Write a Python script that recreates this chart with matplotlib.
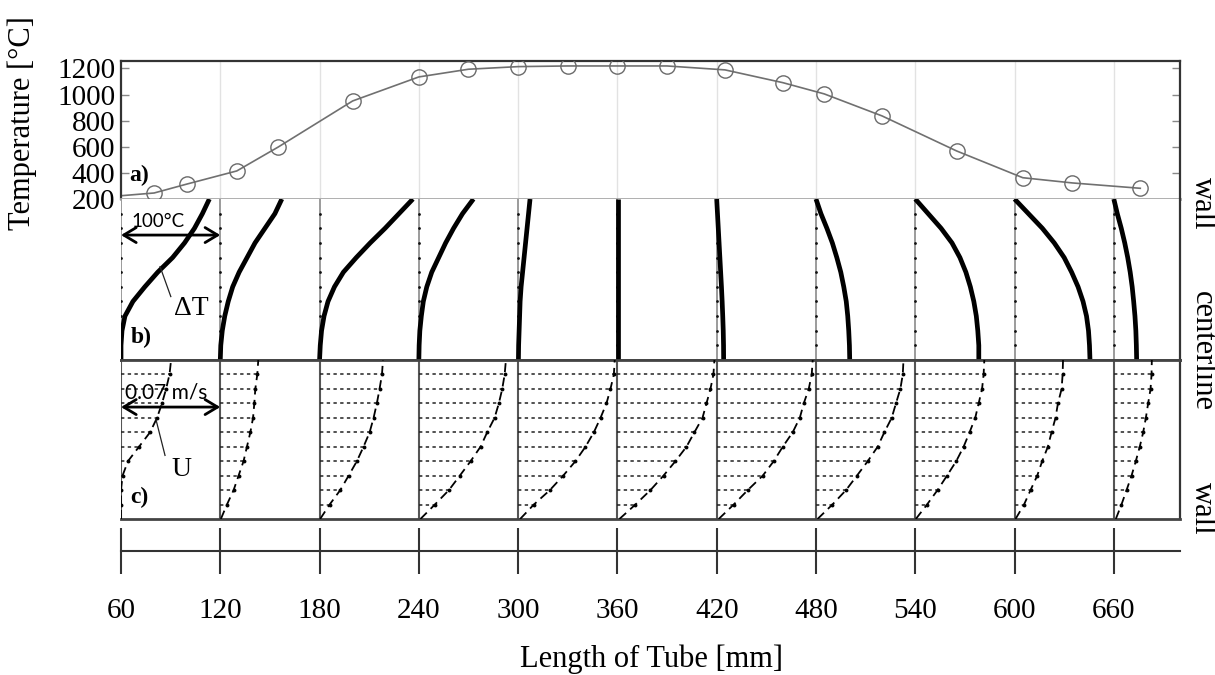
import numpy as np
import matplotlib
matplotlib.use("Agg")
import matplotlib.pyplot as plt

plt.rcParams['font.family'] = ['Liberation Serif', 'DejaVu Serif']

# ---- a) measured wall temperature along the tube ----
pos_mm = [80, 100, 130, 155, 200, 240, 270, 300, 330, 360, 390, 425, 460,
          485, 520, 565, 605, 635, 676]
temp_C = [246, 315, 415, 598, 951, 1135, 1194, 1214, 1219, 1219, 1219, 1189,
          1091, 1005, 836, 568, 363, 323, 282]
start_T = 225          # temperature where the heated section begins (x = 60 mm)

# ---- profile stations along the tube ----
stations = [60, 120, 180, 240, 300, 360, 420, 480, 540, 600, 660]
station_labels = ['60', '120', '180', '240', '300', '360', '420', '480',
                  '540', '600', '660']
temp_ticks = [200, 400, 600, 800, 1000, 1200]

# radial nodes, 0 = wall, 1 = centerline
nodes = np.linspace(0, 1, 12)

# ---- b) radial temperature difference profiles, deg C (wall -> centerline) ----
delta_T = [
    [89, 82, 74, 64, 52, 37, 24, 12, 4, 1, 0, 0],
    [62, 55, 45, 35, 27, 19, 12.5, 8, 4.5, 2, 0.5, 0],
    [94, 80, 66, 51, 37, 24, 15, 8.5, 4.5, 2, 0.7, 0],
    [55, 44, 35, 27, 20, 13, 8, 4.5, 2.5, 1, 0.3, 0],
    [12, 10.5, 9, 7.5, 6, 4.5, 3, 2, 1.5, 1, 0.5, 0.3],
    [1, 1, 1, 1, 1, 1, 1, 1, 1, 1, 1, 1],
    [0, 0.8, 1.6, 2.4, 3.2, 4, 4.8, 5.5, 6.1, 6.6, 6.9, 7],
    [0, 5, 11, 16.5, 21, 25, 28, 30.5, 32, 33, 33.7, 34],
    [0, 13, 26, 37, 45, 51, 55.5, 59, 61.5, 63, 64, 64],
    [0, 14, 28, 40, 50, 57.5, 64, 69, 72.5, 74.5, 75.5, 76],
    [0, 3.5, 7.5, 11, 14, 16.5, 18.5, 20, 21.3, 22.2, 22.7, 23],
]
dT_scale = 100.0       # deg C represented by one station spacing

# ---- c) axial velocity profiles, mm/s (wall -> centerline) ----
velocity = [
    [0, 0, 0, 1.1, 4.9, 12.7, 20.5, 25.4, 28.9, 31.8, 34.2, 35.3],
    [0.4, 4.7, 9.4, 12.9, 16.4, 18.8, 21.2, 23.1, 24.0, 24.7, 26.1, 26.8],
    [0.4, 7.1, 14.6, 20.5, 26.3, 31.0, 35.3, 38.1, 40.4, 42.3, 44.0, 44.7],
    [1.1, 11.3, 21.2, 28.9, 36.5, 43.5, 48.2, 53.4, 56.4, 58.8, 60.5, 61.4],
    [1.4, 11.1, 22.4, 31.8, 40.4, 47.5, 53.4, 58.1, 62.3, 65.1, 67.5, 68.1],
    [1.4, 12.7, 23.3, 32.5, 40.9, 48.7, 54.3, 60.0, 62.8, 65.6, 67.7, 68.4],
    [1.4, 12.0, 21.9, 32.5, 40.2, 46.6, 53.6, 58.6, 61.4, 64.9, 67.0, 67.7],
    [1.1, 11.6, 21.2, 28.9, 36.5, 43.5, 48.2, 53.4, 56.4, 59.5, 61.2, 61.7],
    [0.4, 8.3, 15.7, 22.4, 28.9, 34.1, 38.3, 42.3, 44.7, 47.1, 48.2, 48.7],
    [0.7, 6.7, 11.3, 16.0, 19.5, 23.5, 26.1, 28.9, 30.6, 33.2, 33.9, 34.2],
    [1.4, 5.4, 9.0, 12.5, 15.5, 18.3, 20.7, 22.6, 24.2, 25.9, 26.6, 26.8],
]
U_scale = 70.0         # mm/s represented by one station spacing (0.07 m/s)

spacing = stations[1] - stations[0]
x_range = (60, 700)

W, H = 1215, 675
fig = plt.figure(figsize=(W / 100, H / 100), dpi=100)


def box(left, top, right, bottom):
    return [left / W, 1 - bottom / H, (right - left) / W, (bottom - top) / H]


ax_a = fig.add_axes(box(121, 61, 1180, 199))
ax_b = fig.add_axes(box(121, 199, 1180, 360))
ax_c = fig.add_axes(box(121, 360, 1180, 519))
ax_d = fig.add_axes(box(121, 530, 1180, 572))

dark = '#333333'

# ---------------- panel a ----------------
ax_a.plot([x_range[0]] + pos_mm, [start_T] + temp_C, color='#707070', lw=1.2,
          zorder=2)
ax_a.plot(pos_mm, temp_C, ls='none', marker='o', ms=11, mfc='none',
          mec='#6a6a6a', mew=1.0, zorder=3)
ax_a.set_xlim(*x_range)
ax_a.set_ylim(200, 1257)
ax_a.set_yticks(temp_ticks)
ax_a.set_yticklabels([str(t) for t in temp_ticks])
ax_a.set_xticks(stations[1:])
ax_a.grid(axis='x', color='#e2e2e2', lw=1.0)
ax_a.tick_params(axis='x', length=0, labelbottom=False)
ax_a.tick_params(axis='y', direction='in', left=True, right=True, length=6,
                 width=1, color='#888888', labelsize=21, pad=4)
for side in ('left', 'top', 'right'):
    ax_a.spines[side].set_color(dark)
    ax_a.spines[side].set_linewidth(1.6)
ax_a.spines['bottom'].set_color('#a8a8a8')
ax_a.spines['bottom'].set_linewidth(2.0)
ax_a.text(70.9, 384, 'a)', fontsize=17, fontweight='bold', ha='center',
          va='center')

# ---------------- panel b ----------------
ax_b.set_xlim(*x_range)
ax_b.set_ylim(1, 0)
for s, prof in zip(stations, delta_T):
    ax_b.plot([s, s], [0, 1], color='#8a8a8a', lw=1.2, zorder=1)
    ax_b.plot([s] * 10, nodes[1:-1], ls='none', marker='o', ms=2.0,
              mew=0, color='#111111', zorder=2)
    ax_b.plot(s + np.array(prof) * spacing / dT_scale, nodes, color='black',
              lw=3.4, solid_capstyle='butt', solid_joinstyle='round', zorder=3)
ax_b.set_xticks([])
ax_b.set_yticks([])
ax_b.spines['top'].set_visible(False)
ax_b.spines['left'].set_visible(False)
ax_b.spines['right'].set_color(dark)
ax_b.spines['right'].set_linewidth(1.6)
ax_b.spines['bottom'].set_color('#444444')
ax_b.spines['bottom'].set_linewidth(2.0)

ax_b.annotate('', xy=(stations[0], 0.224), xytext=(stations[1], 0.224),
              arrowprops=dict(arrowstyle='<->,head_length=0.5,head_width=0.3',
                              lw=2.0, color='black', shrinkA=0, shrinkB=0,
                              mutation_scale=18), zorder=5)
ax_b.text(82.4, 0.137, '100°C', family=['Lato', 'DejaVu Sans'], fontsize=13.5,
          ha='center', va='center', zorder=6)
ax_b.plot([83.6, 90.1], [0.42, 0.606], color='#222222', lw=0.9, zorder=4)
ax_b.text(102.3, 0.683, 'ΔT', fontsize=20, ha='center', va='center')
ax_b.text(72.1, 0.857, 'b)', fontsize=17, fontweight='bold', ha='center',
          va='center')

# ---------------- panel c ----------------
ax_c.set_xlim(*x_range)
ax_c.set_ylim(0, 1)
for s, prof in zip(stations, velocity):
    tips = s + np.array(prof) * spacing / U_scale
    ax_c.plot([s, s], [0, 1], color='#555555', lw=1.5, zorder=1)
    for xt, yt in zip(tips[1:-1], nodes[1:-1]):
        ax_c.plot([s, xt], [yt, yt], color='#222222', lw=1.1,
                  ls=(0, (2.2, 2.2)), zorder=2)
    ax_c.plot(tips[1:-1], nodes[1:-1], ls='none', marker='o', ms=2.8,
              mew=0, color='black', zorder=3)
    ax_c.plot(tips, nodes, color='black', lw=1.3, ls=(0, (5, 3)), zorder=3)
ax_c.set_xticks([])
ax_c.set_yticks([])
ax_c.spines['left'].set_visible(False)
for side in ('top', 'bottom'):
    ax_c.spines[side].set_color('#444444')
    ax_c.spines[side].set_linewidth(2.0)
ax_c.spines['right'].set_color(dark)
ax_c.spines['right'].set_linewidth(1.6)

ax_c.annotate('', xy=(stations[0], 0.704), xytext=(stations[1], 0.704),
              arrowprops=dict(arrowstyle='<->,head_length=0.5,head_width=0.3',
                              lw=2.0, color='black', shrinkA=0, shrinkB=0,
                              mutation_scale=18), zorder=5)
ax_c.text(87.5, 0.796, '0.07 m/s', family=['Lato', 'DejaVu Sans'],
          fontsize=15, ha='center', va='center', zorder=6)
ax_c.plot([81.2, 86.6], [0.623, 0.40], color='#222222', lw=0.9, zorder=4)
ax_c.text(96.3, 0.314, 'U', fontsize=20, ha='center', va='center')
ax_c.text(70.9, 0.138, 'c)', fontsize=17, fontweight='bold', ha='center',
          va='center')

# ---------------- length scale ----------------
ax_d.set_xlim(*x_range)
ax_d.patch.set_visible(False)
for side in ('top', 'left', 'right'):
    ax_d.spines[side].set_visible(False)
ax_d.spines['bottom'].set_position(('axes', 0.5))
ax_d.spines['bottom'].set_color(dark)
ax_d.spines['bottom'].set_linewidth(1.5)
ax_d.set_yticks([])
ax_d.set_xticks(stations)
ax_d.set_xticklabels(station_labels)
ax_d.tick_params(axis='x', direction='inout', length=33, width=1.5,
                 color=dark, labelsize=21, pad=17)

# ---------------- axis titles and side labels ----------------
fig.text(22 / W, 1 - 123 / H, 'Temperature [°C]', rotation=90, fontsize=22,
         ha='center', va='center')
fig.text(652 / W, 1 - 667 / H, 'Length of Tube [mm]', fontsize=22,
         ha='center', va='baseline')
for label, ypix in (('wall', 203), ('centerline', 351), ('wall', 508)):
    fig.text(1202 / W, 1 - ypix / H, label, rotation=270, fontsize=22,
             ha='center', va='center')

fig.savefig('out.png', dpi=100)
